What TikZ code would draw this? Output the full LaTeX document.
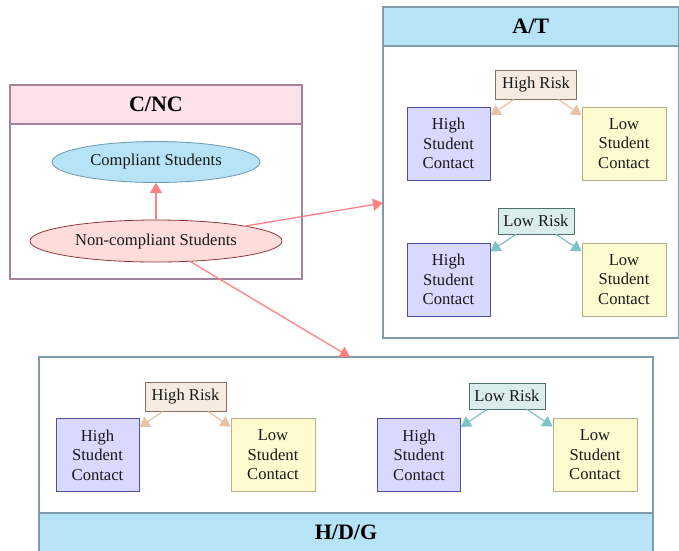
\documentclass[tikz,border=0pt]{standalone}
\usepackage{fontspec}
\setmainfont{Liberation Serif}
\usetikzlibrary{arrows.meta,shapes.geometric}
\definecolor{pinkhd}{HTML}{FCE0EA}
\definecolor{pinkbd}{HTML}{A48499}
\definecolor{bluehd}{HTML}{B7E3F7}
\definecolor{bluebd}{HTML}{7D9BAA}
\definecolor{csfill}{HTML}{B7E3F7}
\definecolor{csbd}{HTML}{6A98AE}
\definecolor{ncfill}{HTML}{FFDCDC}
\definecolor{ncbd}{HTML}{8E3A3A}
\definecolor{redarr}{HTML}{FF8282}
\definecolor{hscfill}{HTML}{D9D9FF}
\definecolor{hscbd}{HTML}{4F4FA6}
\definecolor{lscfill}{HTML}{FFFBD0}
\definecolor{lscbd}{HTML}{B6AE8E}
\definecolor{hrfill}{HTML}{F5EBE1}
\definecolor{hrbd}{HTML}{8A6E5E}
\definecolor{lrfill}{HTML}{D9EEEC}
\definecolor{lrbd}{HTML}{4F706C}
\definecolor{tanarr}{HTML}{E8C3A2}
\definecolor{tealarr}{HTML}{7FC4C4}
\tikzset{
  txt/.style={font=\fontsize{16.6}{19.5}\selectfont, text=black!90},
  ttl/.style={font=\fontsize{22}{24}\selectfont\bfseries, text=black},
  grp/.style={draw, line width=1.2pt, fill=white, inner sep=0pt},
  hdr/.style={draw, line width=1.2pt, inner sep=0pt, ttl},
  hsc/.style={txt, draw=hscbd, fill=hscfill, line width=0.9pt, minimum width=83pt, minimum height=73pt, align=center, inner sep=0pt},
  lsc/.style={txt, draw=lscbd, fill=lscfill, line width=0.9pt, minimum width=84pt, minimum height=73pt, align=center, inner sep=0pt},
  hrisk/.style={txt, draw=hrbd, fill=hrfill, line width=0.9pt, minimum width=81pt, minimum height=29pt, inner sep=0pt},
  lrisk/.style={txt, draw=lrbd, fill=lrfill, line width=0.9pt, minimum width=76pt, minimum height=26pt, inner sep=0pt},
  tarr/.style={draw=tanarr, line width=1.2pt, -{Triangle[length=10pt,width=12pt]}},
  larr/.style={draw=tealarr, line width=1.2pt, -{Triangle[length=10pt,width=12pt]}},
  rarr/.style={draw=redarr, line width=1.3pt, -{Triangle[length=10pt,width=12pt]}},
}
\begin{document}
\begin{tikzpicture}[x=1pt,y=-1pt]
\useasboundingbox (0,0) rectangle (679,550);
% C/NC group
\node[grp, draw=pinkbd, minimum width=292pt, minimum height=194pt] (cnc) at (156,182) {};
\node[hdr, draw=pinkbd, fill=pinkhd, minimum width=292pt, minimum height=39pt] (cnch) at (156,104.5) {C/NC};
\node[txt, ellipse, draw=csbd, fill=csfill, line width=0.8pt, minimum width=208pt, minimum height=41pt, inner sep=0pt] (cs) at (156,162) {Compliant Students};
\node[txt, ellipse, draw=ncbd, fill=ncfill, line width=0.8pt, minimum width=252pt, minimum height=42pt, inner sep=0pt] (ncs) at (156,241) {Non-compliant Students};
\draw[rarr] (ncs) -- (cs);
% A/T group
\node[grp, draw=bluebd, minimum width=295.5pt, minimum height=331pt] (at) at (530.75,172.5) {};
\node[hdr, draw=bluebd, fill=bluehd, minimum width=295.5pt, minimum height=39pt] (ath) at (530.75,26.5) {A/T};
\node[hrisk] (athr) at (536,84.5) {High Risk};
\node[hsc] (athsc1) at (448.5,143.5) {High\\Student\\Contact};
\node[lsc] (atlsc1) at (624,143.5) {Low\\Student\\Contact};
\draw[tarr] (athr) -- (athsc1);
\draw[tarr] (athr) -- (atlsc1);
\node[lrisk] (atlr) at (536,221) {Low Risk};
\node[hsc] (athsc2) at (448.5,279.5) {High\\Student\\Contact};
\node[lsc] (atlsc2) at (624,279.5) {Low\\Student\\Contact};
\draw[larr] (atlr) -- (athsc2);
\draw[larr] (atlr) -- (atlsc2);
% H/D/G group
\node[grp, draw=bluebd, minimum width=614pt, minimum height=195pt] (hdg) at (346,454.5) {};
\node[hdr, draw=bluebd, fill=bluehd, minimum width=614pt, minimum height=39pt] (hdgh) at (346,532.5) {H/D/G};
\node[hrisk] (hdhr) at (185.5,396.5) {High Risk};
\node[hsc] (hdhsc1) at (97.5,455) {High\\Student\\Contact};
\node[lsc] (hdlsc1) at (273,455) {Low\\Student\\Contact};
\draw[tarr] (hdhr) -- (hdhsc1);
\draw[tarr] (hdhr) -- (hdlsc1);
\node[lrisk] (hdlr) at (507,396) {Low Risk};
\node[hsc] (hdhsc2) at (419,455) {High\\Student\\Contact};
\node[lsc] (hdlsc2) at (595,455) {Low\\Student\\Contact};
\draw[larr] (hdlr) -- (hdhsc2);
\draw[larr] (hdlr) -- (hdlsc2);
% red connectors
\coordinate (atin) at (383,203);
\coordinate (hdgin) at (350,357);
\draw[rarr] (ncs) -- (atin);
\draw[rarr] (ncs) -- (hdgin);
\end{tikzpicture}
\end{document}
